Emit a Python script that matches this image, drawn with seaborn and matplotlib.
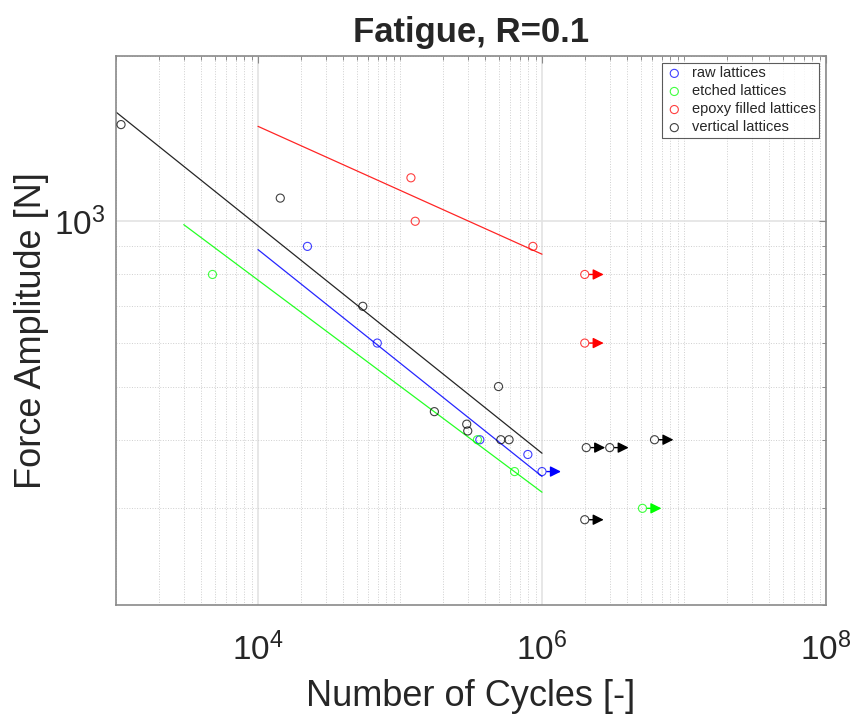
import numpy as np
import pandas as pd
import matplotlib
matplotlib.use("Agg")
import matplotlib.pyplot as plt
import seaborn as sns
from matplotlib.ticker import FixedLocator, NullFormatter, LogFormatterSciNotation

# data (cycles, force amplitude in N)
raw_N = [22300, 69200, 365000, 795000, 1.0e6]
raw_F = [900, 600, 400, 376, 350]
raw_runout = [False, False, False, False, True]

etched_N = [4780, 351000, 641000, 5.1e6]
etched_F = [800, 400, 350, 300]
etched_runout = [False, False, False, True]

epoxy_N = [119400, 128000, 863000, 2.0e6, 2.0e6]
epoxy_F = [1200, 1000, 900, 800, 600]
epoxy_runout = [False, False, False, True, True]

vertical_N = [1085, 14350, 54700, 174600, 295000, 300000, 494000, 513000, 586000,
              2.05e6, 3.0e6, 6.2e6, 2.0e6]
vertical_F = [1500, 1102, 700, 450, 427, 415, 500, 400, 400, 387, 387, 400, 286]
vertical_runout = [False] * 9 + [True] * 4

# fitted lines (end points)
raw_fit_N = [1e4, 1e6]
raw_fit_F = [888, 343]
etched_fit_N = [3000, 1e6]
etched_fit_F = [986, 321]
epoxy_fit_N = [1e4, 1e6]
epoxy_fit_F = [1489, 871]
vertical_fit_N = [1e3, 1e6]
vertical_fit_F = [1581, 378]

series = [
    ("raw lattices", raw_N, raw_F, raw_runout, raw_fit_N, raw_fit_F, "#0000ff"),
    ("etched lattices", etched_N, etched_F, etched_runout, etched_fit_N, etched_fit_F, "#00ff00"),
    ("epoxy filled lattices", epoxy_N, epoxy_F, epoxy_runout, epoxy_fit_N, epoxy_fit_F, "#ff0000"),
    ("vertical lattices", vertical_N, vertical_F, vertical_runout, vertical_fit_N, vertical_fit_F, "#000000"),
]

sns.set_style("white")
plt.rcParams['font.family'] = ['Liberation Sans', 'DejaVu Sans']

fig = plt.figure(figsize=(8.56, 7.16), dpi=100)
ax = fig.add_axes([116 / 856, 1 - 605 / 716, (826 - 116) / 856, (605 - 56) / 716])
ax.set_xscale("log")
ax.set_yscale("log")

for name, N, F, runout, fN, fF, col in series:
    df = pd.DataFrame({"N": N, "F": F})
    sns.scatterplot(data=df, x="N", y="F", ax=ax, marker="o", s=34,
                    facecolor="none", edgecolor=col, linewidth=0.8, alpha=0.75,
                    label=name, zorder=3)
    fit = pd.DataFrame({"N": fN, "F": fF})
    sns.lineplot(data=fit, x="N", y="F", ax=ax, color=col, linewidth=0.9,
                 alpha=0.85, legend=False, zorder=2)
    for n, f, r in zip(N, F, runout):
        if r:
            ax.annotate("", xy=(n * 1.36, f), xytext=(n, f),
                        arrowprops=dict(arrowstyle="-|>", color=col, lw=1.0,
                                        mutation_scale=16, shrinkA=3.5, shrinkB=0),
                        zorder=4)

ax.set_xlim(1e3, 1e8)
ax.set_ylim(200, 2000)

ax.xaxis.set_major_locator(FixedLocator([1e4, 1e6, 1e8]))
ax.xaxis.set_major_formatter(LogFormatterSciNotation())
xminor = [m * 10.0 ** k for k in range(3, 8) for m in range(1, 10)]
xminor = [v for v in xminor if v not in (1e4, 1e6)]
ax.xaxis.set_minor_locator(FixedLocator(xminor))
ax.xaxis.set_minor_formatter(NullFormatter())

ax.yaxis.set_major_locator(FixedLocator([1e3]))
ax.yaxis.set_major_formatter(LogFormatterSciNotation())
ax.yaxis.set_minor_locator(FixedLocator([200, 300, 400, 500, 600, 700, 800, 900, 2000]))
ax.yaxis.set_minor_formatter(NullFormatter())

ax.grid(True, which="major", color="#e3e3e3", linewidth=1.2, linestyle="-")
ax.grid(True, which="minor", color="#cfcfcf", linewidth=0.7, linestyle=":")
ax.set_axisbelow(True)

for sp in ax.spines.values():
    sp.set_color("#8a8a8a")
    sp.set_linewidth(1.2)
ax.tick_params(which="both", direction="in", top=True, right=True,
               colors="#8a8a8a", labelcolor="#262626")
ax.tick_params(which="major", length=5, width=0.8, labelsize=24)
ax.tick_params(which="minor", length=3, width=0.7)
ax.tick_params(axis="x", which="major", pad=20)
ax.tick_params(axis="y", which="major", pad=8)

ax.set_xlabel("Number of Cycles [-]", fontsize=26, color="#262626")
ax.set_ylabel("Force Amplitude [N]", fontsize=26, color="#262626")
ax.xaxis.set_label_coords(0.5, -0.135)
ax.yaxis.set_label_coords(-0.094, 0.5)
ax.set_title("Fatigue, R=0.1", fontsize=25, fontweight="bold", pad=10)

leg = ax.legend(loc="upper right", fontsize=10.5, frameon=True, fancybox=False,
                borderaxespad=0.45, handlelength=1.2, handletextpad=0.6,
                labelspacing=0.28, borderpad=0.25)
leg.get_frame().set_edgecolor("#333333")
leg.get_frame().set_linewidth(0.8)

fig.savefig("out.png", dpi=100)
